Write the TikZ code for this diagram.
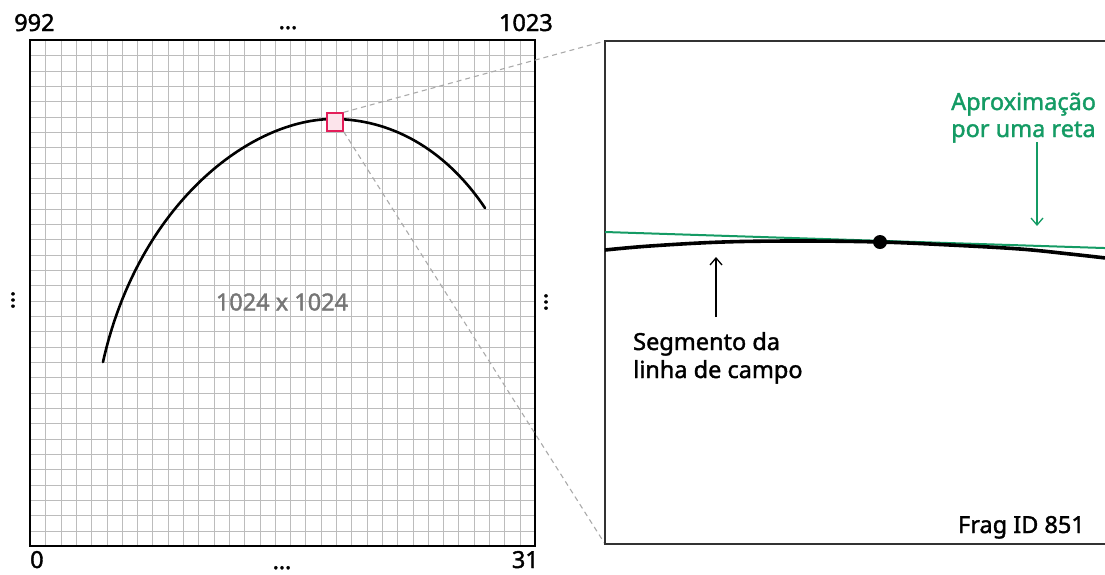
\documentclass[tikz,border=0pt]{standalone}
\usepackage{fontspec}
\setmainfont{Noto Sans}[FakeBold=1.6]
\usetikzlibrary{arrows.meta}
\definecolor{gridgray}{RGB}{188,188,188}
\definecolor{aprox}{RGB}{20,155,100}
\definecolor{zoomred}{RGB}{228,30,90}
\definecolor{labelgray}{RGB}{118,118,118}
\definecolor{dashgray}{RGB}{170,170,170}
\definecolor{panelgray}{RGB}{50,50,50}
\begin{document}
\begin{tikzpicture}[x=1pt,y=-1pt,
  lbl/.style={font=\addfontfeature{FakeBold=1.6}\fontsize{23.5}{28}\selectfont, inner sep=0pt},
  gridline/.style={draw=gridgray, line width=1.2pt},
  fieldline/.style={line width=2.6pt, line cap=round},
  zoombox/.style={draw=zoomred, fill=zoomred!12, line width=1.4pt, minimum width=16pt, minimum height=18pt, inner sep=0pt},
  dashline/.style={draw=dashgray, line width=1.1pt, dash pattern=on 5pt off 4pt},
  panel/.style={draw=panelgray, line width=2pt},
  arr/.style={line width=1.3pt, -{Straight Barb[length=7pt,width=12pt]}},
]
\useasboundingbox (0,0) rectangle (1105,574);
% grid
\foreach \i in {1,...,32} {
  \draw[gridline] ({30.5+round(\i*505/33)},40) -- ({30.5+round(\i*505/33)},546);
  \draw[gridline] (30,{40.5+round(\i*506/33)}) -- (535,{40.5+round(\i*506/33)});
}
\draw[line width=1.6pt] (30,40) rectangle (535,546);
% field line
\draw[fieldline] (103,362) .. controls (138,205) and (250,118) .. (335,119)
  .. controls (405,120) and (455,163) .. (485,208);
\node[lbl, text=labelgray] (size) at (282,302) {1024 x 1024};
\node[zoombox] (zb) at (335,122) {};
% labels
\node[lbl, anchor=base west] (l992) at (14,31) {992};
\node[lbl, anchor=base east] (l1023) at (553,31) {1023};
\node[lbl, anchor=base] (ltop) at (288,29) {…};
\node[lbl, anchor=base west] (l0) at (30,568) {0};
\node[lbl, anchor=base east] (l31) at (539,568) {31};
\node[lbl, anchor=base] (lbot) at (282,569) {…};
\node[lbl, rotate=90] (lleft) at (13,300) {…};
\node[lbl, rotate=90] (lright) at (546,302) {…};
% right panel
\coordinate (ptl) at (605,41);
\coordinate (pbl) at (605,544);
\draw[dashline] (zb.north east) -- (ptl);
\draw[dashline] (zb.south east) -- (pbl);
\draw[panel] (1110,41) -- (ptl) -- (pbl) -- (1110,544);
\draw[aprox, line width=2pt] (605,232) -- (1110,248.2);
\draw[line width=3.6pt] plot[smooth, tension=0.6] coordinates {(605,250) (650,246) (723,242) (800,241) (880,242) (950,245) (1020,249) (1070,254) (1110,258.5)};
\node[circle, fill=black, inner sep=0pt, minimum size=14pt] (pt) at (880,242) {};
\node[lbl, anchor=base west, align=left] (seg) at (633,378) {Segmento da\\linha de campo};
\node[lbl, anchor=base west, align=left, text=aprox, font=\fontsize{23.5}{27}\selectfont] (ap) at (951,137) {Aproximação\\por uma reta};
\node[lbl, anchor=base east] (frag) at (1085,533) {Frag ID 851};
\coordinate (segtail) at (716,317);
\coordinate (segtip) at (716,257);
\coordinate (aptail) at (1037,142);
\coordinate (aptip) at (1037,226);
\draw[arr] (segtail) -- (segtip);
\draw[arr, aprox] (aptail) -- (aptip);
\end{tikzpicture}
\end{document}
